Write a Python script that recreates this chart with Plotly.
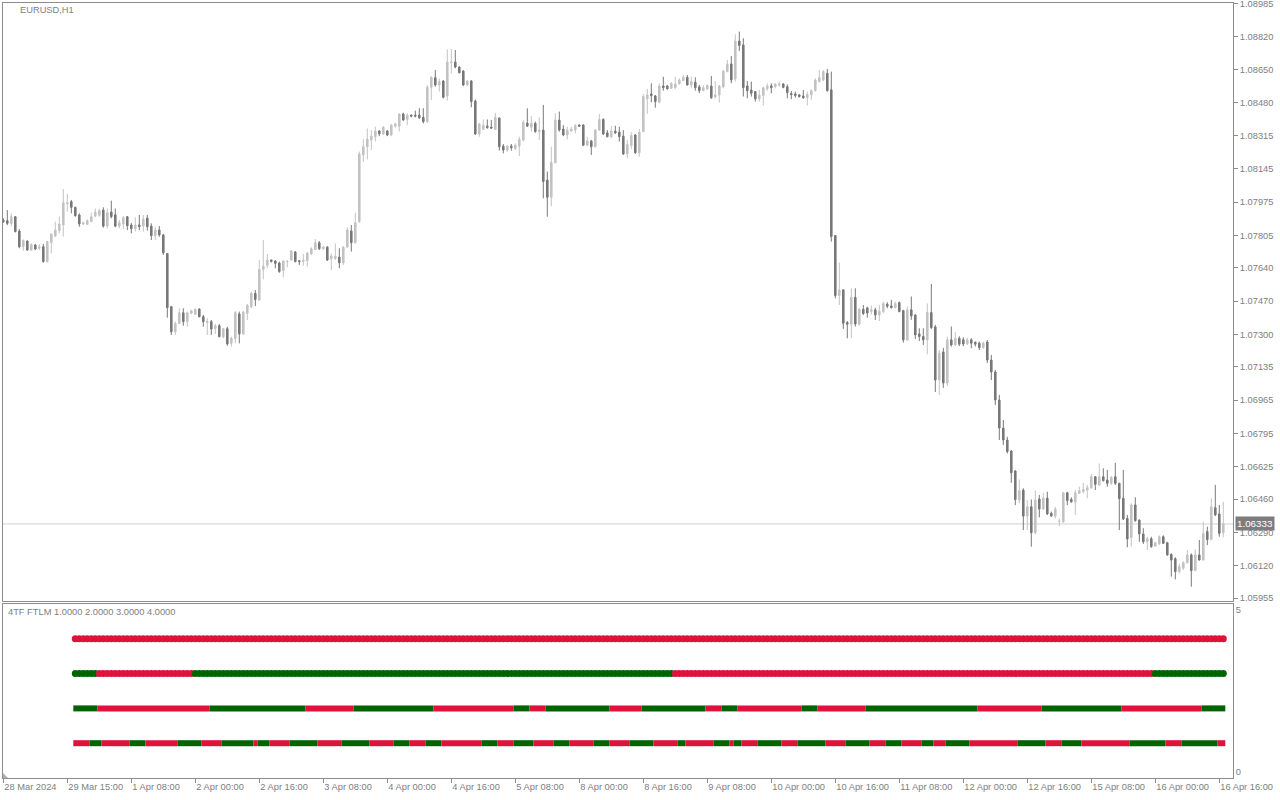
import plotly.graph_objects as go

# ---------------- data (EURUSD H1, bar index 0..305) ----------------
opens = [
    1.07883, 1.07880, 1.07866, 1.07900, 1.07827, 1.07747, 1.07776, 1.07730, 1.07756, 1.07739,
    1.07747, 1.07671, 1.07767, 1.07801, 1.07829, 1.07858, 1.07968, 1.07977, 1.07948, 1.07909,
    1.07863, 1.07861, 1.07876, 1.07903, 1.07907, 1.07934, 1.07852, 1.07924, 1.07910, 1.07852,
    1.07863, 1.07900, 1.07858, 1.07839, 1.07858, 1.07852, 1.07893, 1.07852, 1.07803, 1.07832,
    1.07807, 1.07713, 1.07441, 1.07313, 1.07356, 1.07410, 1.07365, 1.07407, 1.07402, 1.07429,
    1.07390, 1.07360, 1.07365, 1.07330, 1.07344, 1.07288, 1.07329, 1.07254, 1.07278, 1.07404,
    1.07302, 1.07407, 1.07441, 1.07509, 1.07475, 1.07631, 1.07652, 1.07679, 1.07674, 1.07664,
    1.07625, 1.07671, 1.07679, 1.07720, 1.07676, 1.07671, 1.07676, 1.07710, 1.07733, 1.07767,
    1.07737, 1.07745, 1.07686, 1.07687, 1.07694, 1.07665, 1.07745, 1.07827, 1.07767, 1.07875,
    1.08215, 1.08257, 1.08291, 1.08308, 1.08337, 1.08322, 1.08337, 1.08317, 1.08362, 1.08362,
    1.08424, 1.08396, 1.08418, 1.08418, 1.08418, 1.08407, 1.08385, 1.08560, 1.08609, 1.08572,
    1.08592, 1.08515, 1.08685, 1.08689, 1.08663, 1.08643, 1.08572, 1.08592, 1.08490, 1.08322,
    1.08345, 1.08362, 1.08357, 1.08345, 1.08403, 1.08260, 1.08240, 1.08260, 1.08248, 1.08260,
    1.08291, 1.08378, 1.08356, 1.08376, 1.08334, 1.08342, 1.08087, 1.07999, 1.08175, 1.08393,
    1.08347, 1.08317, 1.08337, 1.08342, 1.08368, 1.08368, 1.08265, 1.08286, 1.08257, 1.08342,
    1.08396, 1.08328, 1.08308, 1.08337, 1.08332, 1.08311, 1.08220, 1.08263, 1.08317, 1.08227,
    1.08334, 1.08501, 1.08526, 1.08516, 1.08484, 1.08567, 1.08567, 1.08555, 1.08558, 1.08577,
    1.08594, 1.08611, 1.08572, 1.08586, 1.08562, 1.08543, 1.08552, 1.08567, 1.08511, 1.08521,
    1.08562, 1.08640, 1.08679, 1.08603, 1.08796, 1.08776, 1.08567, 1.08546, 1.08538, 1.08501,
    1.08518, 1.08552, 1.08567, 1.08563, 1.08572, 1.08577, 1.08563, 1.08528, 1.08526, 1.08521,
    1.08516, 1.08507, 1.08521, 1.08543, 1.08589, 1.08597, 1.08632, 1.08547, 1.07804, 1.07498,
    1.07527, 1.07360, 1.07352, 1.07489, 1.07352, 1.07428, 1.07435, 1.07416, 1.07425, 1.07399,
    1.07416, 1.07454, 1.07445, 1.07436, 1.07462, 1.07421, 1.07272, 1.07425, 1.07399, 1.07302,
    1.07289, 1.07272, 1.07411, 1.07338, 1.07067, 1.07210, 1.07052, 1.07272, 1.07246, 1.07280,
    1.07272, 1.07251, 1.07272, 1.07260, 1.07255, 1.07233, 1.07261, 1.07169, 1.07108, 1.06965,
    1.06822, 1.06761, 1.06705, 1.06603, 1.06455, 1.06506, 1.06373, 1.06421, 1.06288, 1.06460,
    1.06409, 1.06464, 1.06387, 1.06373, 1.06346, 1.06344, 1.06492, 1.06458, 1.06446, 1.06489,
    1.06498, 1.06506, 1.06518, 1.06574, 1.06532, 1.06574, 1.06557, 1.06540, 1.06574, 1.06540,
    1.06464, 1.06361, 1.06263, 1.06430, 1.06353, 1.06282, 1.06242, 1.06258, 1.06220, 1.06231,
    1.06268, 1.06237, 1.06178, 1.06156, 1.06090, 1.06107, 1.06135, 1.06175, 1.06095, 1.06175,
    1.06149, 1.06294, 1.06254, 1.06416, 1.06384, 1.06288,
]
highs = [
    1.07892, 1.07934, 1.07917, 1.07903, 1.07837, 1.07784, 1.07779, 1.07764, 1.07761, 1.07761,
    1.07761, 1.07776, 1.07815, 1.07875, 1.07900, 1.08041, 1.08016, 1.07985, 1.07951, 1.07917,
    1.07875, 1.07886, 1.07920, 1.07942, 1.07941, 1.07948, 1.07942, 1.07982, 1.07942, 1.07883,
    1.07903, 1.07903, 1.07869, 1.07897, 1.07909, 1.07909, 1.07909, 1.07866, 1.07849, 1.07852,
    1.07812, 1.07713, 1.07444, 1.07365, 1.07433, 1.07433, 1.07416, 1.07424, 1.07433, 1.07433,
    1.07399, 1.07382, 1.07373, 1.07353, 1.07353, 1.07330, 1.07339, 1.07288, 1.07419, 1.07416,
    1.07419, 1.07455, 1.07517, 1.07526, 1.07679, 1.07781, 1.07710, 1.07682, 1.07679, 1.07671,
    1.07679, 1.07676, 1.07730, 1.07725, 1.07679, 1.07710, 1.07718, 1.07744, 1.07786, 1.07776,
    1.07750, 1.07750, 1.07713, 1.07764, 1.07739, 1.07750, 1.07846, 1.07858, 1.07920, 1.08232,
    1.08296, 1.08350, 1.08342, 1.08359, 1.08342, 1.08362, 1.08342, 1.08373, 1.08379, 1.08427,
    1.08430, 1.08427, 1.08422, 1.08441, 1.08453, 1.08453, 1.08572, 1.08617, 1.08648, 1.08605,
    1.08597, 1.08753, 1.08755, 1.08750, 1.08668, 1.08648, 1.08597, 1.08597, 1.08498, 1.08379,
    1.08396, 1.08396, 1.08393, 1.08430, 1.08407, 1.08271, 1.08265, 1.08271, 1.08274, 1.08308,
    1.08393, 1.08453, 1.08413, 1.08385, 1.08407, 1.08470, 1.08130, 1.08257, 1.08427, 1.08436,
    1.08367, 1.08359, 1.08359, 1.08373, 1.08371, 1.08371, 1.08308, 1.08291, 1.08347, 1.08424,
    1.08402, 1.08342, 1.08362, 1.08364, 1.08359, 1.08342, 1.08291, 1.08331, 1.08322, 1.08348,
    1.08526, 1.08552, 1.08580, 1.08521, 1.08580, 1.08614, 1.08572, 1.08586, 1.08614, 1.08606,
    1.08623, 1.08623, 1.08614, 1.08611, 1.08572, 1.08572, 1.08575, 1.08618, 1.08592, 1.08572,
    1.08648, 1.08700, 1.08720, 1.08830, 1.08844, 1.08810, 1.08592, 1.08589, 1.08541, 1.08546,
    1.08563, 1.08580, 1.08580, 1.08580, 1.08589, 1.08580, 1.08575, 1.08541, 1.08538, 1.08526,
    1.08546, 1.08538, 1.08550, 1.08606, 1.08648, 1.08648, 1.08654, 1.08640, 1.07807, 1.07666,
    1.07527, 1.07368, 1.07535, 1.07535, 1.07433, 1.07450, 1.07441, 1.07447, 1.07436, 1.07450,
    1.07467, 1.07464, 1.07476, 1.07467, 1.07467, 1.07425, 1.07442, 1.07493, 1.07402, 1.07331,
    1.07331, 1.07458, 1.07557, 1.07348, 1.07220, 1.07231, 1.07289, 1.07340, 1.07311, 1.07290,
    1.07285, 1.07283, 1.07280, 1.07263, 1.07263, 1.07263, 1.07271, 1.07195, 1.07118, 1.06991,
    1.06863, 1.06778, 1.06710, 1.06608, 1.06560, 1.06515, 1.06455, 1.06458, 1.06503, 1.06481,
    1.06492, 1.06497, 1.06396, 1.06421, 1.06361, 1.06497, 1.06497, 1.06469, 1.06506, 1.06523,
    1.06543, 1.06532, 1.06588, 1.06577, 1.06642, 1.06617, 1.06608, 1.06577, 1.06645, 1.06543,
    1.06608, 1.06379, 1.06438, 1.06469, 1.06356, 1.06311, 1.06268, 1.06268, 1.06242, 1.06275,
    1.06275, 1.06242, 1.06183, 1.06163, 1.06129, 1.06141, 1.06200, 1.06183, 1.06203, 1.06251,
    1.06344, 1.06319, 1.06464, 1.06532, 1.06430, 1.06446,
]
lows = [
    1.07869, 1.07857, 1.07852, 1.07820, 1.07739, 1.07727, 1.07727, 1.07727, 1.07730, 1.07730,
    1.07666, 1.07666, 1.07713, 1.07798, 1.07815, 1.07798, 1.07926, 1.07917, 1.07900, 1.07849,
    1.07858, 1.07858, 1.07871, 1.07897, 1.07900, 1.07844, 1.07841, 1.07892, 1.07846, 1.07841,
    1.07836, 1.07832, 1.07815, 1.07824, 1.07832, 1.07824, 1.07829, 1.07781, 1.07781, 1.07798,
    1.07705, 1.07385, 1.07297, 1.07297, 1.07353, 1.07344, 1.07339, 1.07404, 1.07399, 1.07387,
    1.07339, 1.07297, 1.07297, 1.07302, 1.07285, 1.07280, 1.07242, 1.07237, 1.07254, 1.07254,
    1.07297, 1.07373, 1.07433, 1.07444, 1.07472, 1.07580, 1.07637, 1.07667, 1.07637, 1.07614,
    1.07591, 1.07642, 1.07674, 1.07667, 1.07654, 1.07650, 1.07645, 1.07704, 1.07730, 1.07730,
    1.07730, 1.07674, 1.07628, 1.07679, 1.07637, 1.07654, 1.07742, 1.07722, 1.07764, 1.07869,
    1.08180, 1.08192, 1.08240, 1.08283, 1.08311, 1.08317, 1.08311, 1.08311, 1.08354, 1.08334,
    1.08390, 1.08367, 1.08407, 1.08407, 1.08398, 1.08376, 1.08379, 1.08495, 1.08563, 1.08538,
    1.08504, 1.08492, 1.08631, 1.08657, 1.08631, 1.08566, 1.08566, 1.08458, 1.08317, 1.08308,
    1.08342, 1.08349, 1.08349, 1.08342, 1.08237, 1.08223, 1.08232, 1.08237, 1.08240, 1.08209,
    1.08283, 1.08359, 1.08334, 1.08328, 1.08291, 1.07994, 1.07900, 1.07954, 1.08172, 1.08334,
    1.08311, 1.08294, 1.08334, 1.08325, 1.08359, 1.08260, 1.08260, 1.08215, 1.08254, 1.08339,
    1.08317, 1.08305, 1.08300, 1.08322, 1.08283, 1.08215, 1.08198, 1.08246, 1.08220, 1.08206,
    1.08331, 1.08424, 1.08484, 1.08456, 1.08478, 1.08543, 1.08550, 1.08552, 1.08552, 1.08575,
    1.08592, 1.08569, 1.08555, 1.08543, 1.08530, 1.08541, 1.08546, 1.08501, 1.08504, 1.08482,
    1.08555, 1.08637, 1.08581, 1.08589, 1.08745, 1.08513, 1.08504, 1.08513, 1.08487, 1.08487,
    1.08467, 1.08543, 1.08530, 1.08555, 1.08563, 1.08555, 1.08504, 1.08499, 1.08507, 1.08507,
    1.08501, 1.08467, 1.08496, 1.08538, 1.08586, 1.08592, 1.08538, 1.07773, 1.07484, 1.07450,
    1.07328, 1.07280, 1.07280, 1.07340, 1.07345, 1.07399, 1.07385, 1.07402, 1.07373, 1.07368,
    1.07407, 1.07433, 1.07433, 1.07433, 1.07413, 1.07258, 1.07266, 1.07374, 1.07277, 1.07266,
    1.07246, 1.07198, 1.07328, 1.07006, 1.06991, 1.07027, 1.07037, 1.07238, 1.07243, 1.07240,
    1.07240, 1.07246, 1.07229, 1.07238, 1.07220, 1.07226, 1.07154, 1.07067, 1.06940, 1.06761,
    1.06736, 1.06693, 1.06543, 1.06429, 1.06438, 1.06302, 1.06302, 1.06217, 1.06280, 1.06367,
    1.06404, 1.06379, 1.06370, 1.06362, 1.06322, 1.06339, 1.06429, 1.06441, 1.06379, 1.06486,
    1.06489, 1.06464, 1.06511, 1.06506, 1.06528, 1.06549, 1.06523, 1.06532, 1.06532, 1.06302,
    1.06353, 1.06214, 1.06217, 1.06344, 1.06242, 1.06231, 1.06200, 1.06212, 1.06217, 1.06226,
    1.06231, 1.06171, 1.06064, 1.06050, 1.06081, 1.06098, 1.06132, 1.06013, 1.06093, 1.06146,
    1.06146, 1.06225, 1.06251, 1.06373, 1.06268, 1.06265,
]
closes = [
    1.07873, 1.07866, 1.07900, 1.07824, 1.07747, 1.07778, 1.07730, 1.07759, 1.07735, 1.07747,
    1.07671, 1.07773, 1.07812, 1.07832, 1.07863, 1.07971, 1.07971, 1.07948, 1.07905, 1.07863,
    1.07869, 1.07880, 1.07900, 1.07924, 1.07931, 1.07852, 1.07920, 1.07900, 1.07852, 1.07869,
    1.07895, 1.07854, 1.07839, 1.07858, 1.07849, 1.07888, 1.07849, 1.07803, 1.07832, 1.07807,
    1.07716, 1.07436, 1.07313, 1.07356, 1.07410, 1.07365, 1.07410, 1.07421, 1.07427, 1.07390,
    1.07365, 1.07365, 1.07327, 1.07344, 1.07288, 1.07329, 1.07251, 1.07281, 1.07410, 1.07302,
    1.07414, 1.07448, 1.07509, 1.07478, 1.07631, 1.07648, 1.07679, 1.07671, 1.07662, 1.07620,
    1.07674, 1.07674, 1.07725, 1.07671, 1.07671, 1.07679, 1.07715, 1.07737, 1.07767, 1.07737,
    1.07745, 1.07679, 1.07699, 1.07698, 1.07665, 1.07745, 1.07832, 1.07767, 1.07869, 1.08220,
    1.08257, 1.08296, 1.08311, 1.08337, 1.08323, 1.08356, 1.08317, 1.08367, 1.08373, 1.08424,
    1.08393, 1.08417, 1.08413, 1.08413, 1.08405, 1.08385, 1.08560, 1.08611, 1.08572, 1.08589,
    1.08509, 1.08689, 1.08689, 1.08663, 1.08634, 1.08572, 1.08592, 1.08487, 1.08322, 1.08373,
    1.08366, 1.08354, 1.08352, 1.08407, 1.08257, 1.08240, 1.08260, 1.08252, 1.08265, 1.08294,
    1.08381, 1.08362, 1.08376, 1.08334, 1.08342, 1.08079, 1.07999, 1.08177, 1.08393, 1.08342,
    1.08317, 1.08342, 1.08347, 1.08364, 1.08362, 1.08265, 1.08286, 1.08257, 1.08342, 1.08396,
    1.08322, 1.08308, 1.08337, 1.08328, 1.08308, 1.08220, 1.08269, 1.08314, 1.08227, 1.08331,
    1.08513, 1.08521, 1.08518, 1.08487, 1.08567, 1.08558, 1.08552, 1.08580, 1.08577, 1.08597,
    1.08611, 1.08572, 1.08589, 1.08558, 1.08543, 1.08558, 1.08569, 1.08507, 1.08521, 1.08567,
    1.08643, 1.08679, 1.08598, 1.08796, 1.08773, 1.08558, 1.08543, 1.08530, 1.08501, 1.08521,
    1.08558, 1.08567, 1.08558, 1.08577, 1.08577, 1.08560, 1.08533, 1.08523, 1.08518, 1.08513,
    1.08507, 1.08524, 1.08543, 1.08597, 1.08609, 1.08640, 1.08543, 1.07799, 1.07498, 1.07527,
    1.07357, 1.07352, 1.07489, 1.07353, 1.07428, 1.07406, 1.07409, 1.07425, 1.07399, 1.07419,
    1.07457, 1.07443, 1.07436, 1.07457, 1.07416, 1.07272, 1.07425, 1.07394, 1.07297, 1.07289,
    1.07272, 1.07411, 1.07334, 1.07067, 1.07205, 1.07052, 1.07272, 1.07246, 1.07280, 1.07250,
    1.07251, 1.07272, 1.07255, 1.07250, 1.07233, 1.07255, 1.07169, 1.07108, 1.06965, 1.06822,
    1.06761, 1.06702, 1.06594, 1.06458, 1.06503, 1.06373, 1.06421, 1.06288, 1.06455, 1.06409,
    1.06464, 1.06384, 1.06373, 1.06409, 1.06348, 1.06492, 1.06452, 1.06446, 1.06492, 1.06503,
    1.06509, 1.06518, 1.06574, 1.06535, 1.06574, 1.06554, 1.06540, 1.06571, 1.06540, 1.06462,
    1.06358, 1.06256, 1.06430, 1.06350, 1.06282, 1.06242, 1.06258, 1.06217, 1.06237, 1.06268,
    1.06234, 1.06175, 1.06149, 1.06090, 1.06115, 1.06137, 1.06175, 1.06095, 1.06175, 1.06149,
    1.06285, 1.06254, 1.06421, 1.06379, 1.06285, 1.06333,
]

time_tick_bars = [0, 16, 32, 48, 64, 80, 96, 112, 128, 144, 160, 176, 192, 208, 224, 240, 256, 272, 288, 304]
time_labels = ["28 Mar 2024", "29 Mar 15:00", "1 Apr 08:00", "2 Apr 00:00", "2 Apr 16:00",
               "3 Apr 08:00", "4 Apr 00:00", "4 Apr 16:00", "5 Apr 08:00", "8 Apr 00:00",
               "8 Apr 16:00", "9 Apr 08:00", "10 Apr 00:00", "10 Apr 16:00", "11 Apr 08:00",
               "12 Apr 00:00", "12 Apr 16:00", "15 Apr 08:00", "16 Apr 00:00", "16 Apr 16:00"]
price_labels = ["1.08985", "1.08820", "1.08650", "1.08480", "1.08315", "1.08145", "1.07975",
                "1.07805", "1.07640", "1.07470", "1.07300", "1.07135", "1.06965", "1.06795",
                "1.06625", "1.06460", "1.06290", "1.06120", "1.05955"]

# 4TF FTLM indicator: first bar of each run and its state (1 = up/green, -1 = down/red)
ftlm_last_bar = 305
tf4_starts = [18]
tf4_states = [-1]
tf3_starts = [18, 24, 48, 168, 288]
tf3_states = [1, -1, 1, -1, 1]
tf2_starts = [18, 24, 52, 76, 88, 108, 128, 132, 136, 152, 160, 176, 180, 184, 200, 204,
              216, 244, 260, 280, 300]
tf2_states = [1, -1, 1, -1, 1, -1, 1, -1, 1, -1, 1, -1, 1, -1, 1, -1, 1, -1, 1, -1, 1]
tf1_starts = [18, 22, 25, 32, 36, 44, 50, 55, 63, 64, 67, 72, 79, 85, 92, 98, 102, 106, 110,
              120, 124, 128, 133, 138, 142, 148, 152, 157, 163, 169, 171, 178, 182, 183, 185,
              189, 195, 199, 206, 211, 217, 221, 225, 230, 233, 236, 242, 254, 261, 265, 270,
              282, 291, 295, 304]
tf1_states = [-1, 1] * 27 + [-1]

# ---------------- styling ----------------
AX = "#8c8c8c"
TXT = "#808080"
FONT = "Liberation Sans, Arial, sans-serif"
FS = 9.3
BULL = "#c3c3c3"
BEAR = "#787878"
UP = "#006400"
DN = "#dc143c"

bars = list(range(len(closes)))

fig = go.Figure()
fig.add_trace(go.Candlestick(
    x=bars, open=opens, high=highs, low=lows, close=closes,
    xaxis="x", yaxis="y", whiskerwidth=0,
    increasing=dict(line=dict(color=BULL, width=1), fillcolor=BULL),
    decreasing=dict(line=dict(color=BEAR, width=1), fillcolor=BEAR),
    hoverinfo="skip", showlegend=False,
))


def runs(starts, states):
    out = []
    for i, s in enumerate(starts):
        e = starts[i + 1] - 1 if i + 1 < len(starts) else ftlm_last_bar
        out.append((s, e, states[i]))
    return out


# solid rows (1 and 2)
for level, starts, states in [(2, tf2_starts, tf2_states), (1, tf1_starts, tf1_states)]:
    for st, col in [(1, UP), (-1, DN)]:
        xs, ys = [], []
        for s, e, v in runs(starts, states):
            if v == st:
                xs += [s - 0.5, e + 0.5, None]
                ys += [level, level, None]
        fig.add_trace(go.Scatter(x=xs, y=ys, mode="lines", xaxis="x2", yaxis="y2",
                                 line=dict(color=col, width=6), hoverinfo="skip",
                                 showlegend=False, connectgaps=False))

# dotted rows (3 and 4)
for level, starts, states in [(4, tf4_starts, tf4_states), (3, tf3_starts, tf3_states)]:
    xs, cs = [], []
    for s, e, v in runs(starts, states):
        for b in range(s, e + 1):
            xs.append(b)
            cs.append(UP if v == 1 else DN)
    fig.add_trace(go.Scatter(x=xs, y=[level] * len(xs), mode="markers", xaxis="x2", yaxis="y2",
                             marker=dict(color=cs, size=7, line=dict(width=0)),
                             hoverinfo="skip", showlegend=False))

# ---------------- layout ----------------
W, H = 1280, 800
ML, MR, MT, MB = 3, 47, 3, 22
plot_h = H - MT - MB
plot_w = W - ML - MR
main_bottom_px = 601
ind_top_px = 604
main_dom = [(H - MB - main_bottom_px) / plot_h, 1]
ind_dom = [0, (H - MB - ind_top_px) / plot_h]
xr = [-0.075, 307.425]

axis_common = dict(showgrid=False, zeroline=False, showline=True, mirror=True,
                   linecolor=AX, linewidth=1, automargin=False)
tfont = dict(family=FONT, size=FS, color=TXT)

fig.update_layout(
    width=W, height=H,
    margin=dict(l=ML, r=MR, t=MT, b=MB, pad=0, autoexpand=False),
    paper_bgcolor="white", plot_bgcolor="white",
    showlegend=False, hovermode=False,
    font=dict(family=FONT, size=FS, color=TXT),
    boxgap=0.45,
    xaxis=dict(domain=[0, 1], range=xr, anchor="y", showticklabels=False, ticks="",
               rangeslider=dict(visible=False), **axis_common),
    xaxis2=dict(domain=[0, 1], range=xr, anchor="y2", tickmode="array",
                tickvals=time_tick_bars, ticktext=time_labels, ticks="outside", ticklen=4,
                tickcolor=AX, tickangle=0, ticklabelposition="outside right",
                ticklabeloverflow="allow", tickfont=tfont, **axis_common),
    yaxis=dict(domain=main_dom, range=[1.05940, 1.08990], anchor="x", side="right",
               tickmode="array", tickvals=[float(p) for p in price_labels], ticktext=price_labels,
               ticks="outside", ticklen=4, tickcolor=AX, ticklabeloverflow="allow",
               tickfont=tfont, **axis_common),
    yaxis2=dict(domain=ind_dom, range=[0, 5], anchor="x2", side="right",
                tickmode="array", tickvals=[0.17, 4.83], ticktext=["0", "5"], ticks="",
                ticklabeloverflow="allow", tickfont=tfont, **axis_common),
)

current_price = closes[-1]
fig.add_shape(type="line", xref="x domain", x0=0, x1=1, yref="y", y0=current_price, y1=current_price,
              line=dict(color="#d0d0d0", width=1), layer="below")

# small scroll marker triangle in the indicator window's lower-left corner
tri_x0 = 0
tri_x1 = 5 / plot_w
tri_y0 = 0
tri_y1 = 5 / plot_h
fig.add_shape(type="path", xref="paper", yref="paper",
              path=f"M {tri_x0},{tri_y0} L {tri_x1},{tri_y0} L {tri_x0},{tri_y1} Z",
              fillcolor="#b0b0b0", line=dict(width=0))

fig.add_annotation(text="EURUSD,H1", xref="paper", yref="paper",
                   x=(18 - ML) / plot_w, y=(H - MB - 10) / plot_h, xanchor="left", yanchor="middle",
                   showarrow=False, font=tfont)
fig.add_annotation(text="4TF FTLM 1.0000 2.0000 3.0000 4.0000", xref="paper", yref="paper",
                   x=(6 - ML) / plot_w, y=(H - MB - 612) / plot_h, xanchor="left", yanchor="middle",
                   showarrow=False, font=tfont)
fig.add_annotation(text=f"{current_price:.5f}", xref="paper", yref="y",
                   x=1, y=current_price, xanchor="left", yanchor="middle", xshift=2,
                   showarrow=False, bgcolor="#7d7d7d", borderpad=1,
                   font=dict(family=FONT, size=FS + 0.5, color="white"))

fig.write_html("out.html", config={"displayModeBar": False},
               post_script="document.body.style.margin='0';document.body.style.overflow='hidden';")
